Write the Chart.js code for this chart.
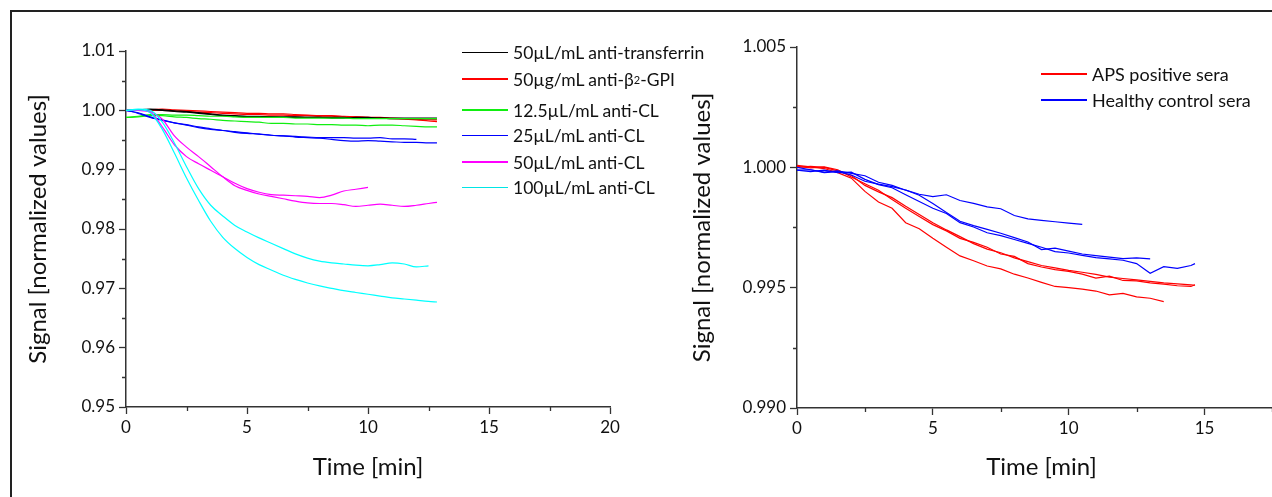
<!DOCTYPE html>
<html>
<head>
<meta charset="utf-8">
<script src="https://cdn.jsdelivr.net/npm/chart.js"></script>
<style>
  body {
    margin: 0;
    width: 1272px;
    height: 497px;
    overflow: hidden;
    background: #fff;
    position: relative;
    font-family: Lato, sans-serif;
  }
  #frame {
    position: absolute;
    left: 10px;
    top: 10px;
    width: 1400px;
    height: 600px;
    border: 2px solid #222;
    box-sizing: border-box;
  }
  #leftChart { position: absolute; left: 0; top: 0; }
  #rightChart { position: absolute; left: 680px; top: 0; }
  .row {
    position: absolute;
    height: 20px;
    display: flex;
    align-items: center;
    white-space: nowrap;
    font-size: 17.5px;
    color: #111;
  }
  .row.wide { font-size: 18px; }
  .row .sw {
    display: inline-block;
    width: 46px;
    height: 1px;
    margin-right: 5px;
  }
  .row .sw.thick { height: 2px; }
  .row sub { font-size: 11px; vertical-align: -4px; }
</style>
</head>
<body>
<div id="frame"></div>
<canvas id="leftChart" width="660" height="497"></canvas>
<canvas id="rightChart" width="656" height="497"></canvas>

<div class="row" style="left:462px;top:42px"><span class="sw" style="background:#000"></span>50µL/mL anti-transferrin</div>
<div class="row" style="left:462px;top:69px"><span class="sw thick" style="background:#ff0000"></span>50µg/mL anti-β<sub>2</sub>-GPI</div>
<div class="row" style="left:462px;top:100px"><span class="sw thick" style="background:#11ee11"></span>12.5µL/mL anti-CL</div>
<div class="row" style="left:462px;top:125px"><span class="sw" style="background:#0000ff"></span>25µL/mL anti-CL</div>
<div class="row" style="left:462px;top:152px"><span class="sw thick" style="background:#ff00ff"></span>50µL/mL anti-CL</div>
<div class="row" style="left:462px;top:177px"><span class="sw" style="background:#00e5e5"></span>100µL/mL anti-CL</div>

<div class="row wide" style="left:1041px;top:64px"><span class="sw thick" style="background:#ff0000"></span>APS positive sera</div>
<div class="row wide" style="left:1041px;top:90px"><span class="sw thick" style="background:#0000ff"></span>Healthy control sera</div>

<script>
  // ---- left panel: antibody dilutions ----
  const leftTime = [0, 0.5, 1, 1.5, 2, 2.5, 3, 3.5, 4, 4.5, 5, 5.5, 6, 6.5, 7, 7.5, 8, 8.5, 9, 9.5, 10, 10.5, 11, 11.5, 12, 12.5, 12.85];

  const transferrinA = [1.0000, 1.0001, 1.0002, 1.0001, 0.9999, 0.9998, 0.9996, 0.9994, 0.9992, 0.9991, 0.9990, 0.9990, 0.9989, 0.9989, 0.9989, 0.9988, 0.9988, 0.9988, 0.9988, 0.9987, 0.9987, 0.9987, 0.9986, 0.9986, 0.9986, 0.9986, 0.9986];
  const transferrinB = [1.0000, 1.0000, 1.0001, 1.0000, 0.9998, 0.9997, 0.9995, 0.9993, 0.9991, 0.9990, 0.9989, 0.9989, 0.9989, 0.9988, 0.9988, 0.9988, 0.9988, 0.9987, 0.9987, 0.9988, 0.9988, 0.9987, 0.9987, 0.9987, 0.9987, 0.9987, 0.9987];
  const beta2A = [1.0000, 1.0001, 1.0001, 1.0002, 1.0001, 1.0000, 0.9999, 0.9998, 0.9997, 0.9996, 0.9995, 0.9995, 0.9994, 0.9994, 0.9993, 0.9992, 0.9991, 0.9991, 0.9990, 0.9989, 0.9988, 0.9987, 0.9986, 0.9985, 0.9984, 0.9982, 0.9981];
  const beta2B = [1.0000, 1.0000, 1.0000, 1.0000, 0.9999, 0.9998, 0.9997, 0.9996, 0.9995, 0.9994, 0.9993, 0.9993, 0.9992, 0.9992, 0.9991, 0.9991, 0.9990, 0.9990, 0.9989, 0.9989, 0.9988, 0.9988, 0.9987, 0.9986, 0.9985, 0.9984, 0.9984];
  const cl125A = [0.9988, 0.9990, 0.9993, 0.9993, 0.9992, 0.9992, 0.9991, 0.9990, 0.9990, 0.9989, 0.9988, 0.9988, 0.9988, 0.9988, 0.9987, 0.9987, 0.9987, 0.9987, 0.9987, 0.9986, 0.9986, 0.9986, 0.9986, 0.9986, 0.9986, 0.9986, 0.9986];
  const cl125B = [0.9988, 0.9989, 0.9991, 0.9991, 0.9989, 0.9988, 0.9986, 0.9985, 0.9983, 0.9982, 0.9981, 0.9980, 0.9978, 0.9978, 0.9977, 0.9977, 0.9976, 0.9976, 0.9975, 0.9975, 0.9974, 0.9975, 0.9975, 0.9974, 0.9973, 0.9972, 0.9972];
  const cl25A = [1.0000, 0.9995, 0.9988, 0.9983, 0.9979, 0.9975, 0.9971, 0.9968, 0.9966, 0.9963, 0.9961, 0.9960, 0.9958, 0.9957, 0.9956, 0.9955, 0.9954, 0.9954, 0.9954, 0.9953, 0.9953, 0.9954, 0.9952, 0.9952, 0.9951];
  const cl25B = [1.0000, 0.9996, 0.9989, 0.9984, 0.9979, 0.9976, 0.9972, 0.9969, 0.9966, 0.9964, 0.9962, 0.9960, 0.9958, 0.9957, 0.9955, 0.9954, 0.9953, 0.9951, 0.9949, 0.9948, 0.9949, 0.9948, 0.9947, 0.9946, 0.9946, 0.9945, 0.9945];
  const cl50A = [1.0000, 1.0000, 0.9997, 0.9972, 0.9942, 0.9922, 0.9910, 0.9899, 0.9888, 0.9877, 0.9868, 0.9862, 0.9858, 0.9857, 0.9856, 0.9855, 0.9853, 0.9857, 0.9864, 0.9867, 0.9870];
  const cl50B = [1.0000, 1.0000, 0.9998, 0.9985, 0.9957, 0.9938, 0.9922, 0.9905, 0.9888, 0.9873, 0.9865, 0.9859, 0.9855, 0.9851, 0.9847, 0.9844, 0.9843, 0.9843, 0.9841, 0.9838, 0.9840, 0.9842, 0.9840, 0.9838, 0.9840, 0.9843, 0.9845];
  const cl100A = [1.0000, 1.0002, 1.0000, 0.9980, 0.9945, 0.9905, 0.9868, 0.9840, 0.9822, 0.9806, 0.9795, 0.9785, 0.9776, 0.9767, 0.9758, 0.9751, 0.9746, 0.9743, 0.9741, 0.9739, 0.9738, 0.9740, 0.9743, 0.9741, 0.9736, 0.9738];
  const cl100B = [1.0000, 1.0001, 0.9996, 0.9968, 0.9928, 0.9886, 0.9848, 0.9813, 0.9786, 0.9767, 0.9752, 0.9740, 0.9731, 0.9722, 0.9715, 0.9709, 0.9704, 0.9700, 0.9696, 0.9693, 0.9690, 0.9687, 0.9684, 0.9682, 0.9680, 0.9678, 0.9677];

  const leftXTicks = [0, 5, 10, 15, 20];
  const leftXMinor = [2.5, 7.5, 12.5, 17.5];
  const leftYTicks = [0.95, 0.96, 0.97, 0.98, 0.99, 1.00, 1.01];
  const leftYLabels = ['0.95', '0.96', '0.97', '0.98', '0.99', '1.00', '1.01'];
  const leftYMinor = [0.955, 0.965, 0.975, 0.985, 0.995, 1.005];

  // ---- right panel: patient sera ----
  const rightTime = [0, 0.5, 1, 1.5, 2, 2.5, 3, 3.5, 4, 4.5, 5, 5.5, 6, 6.5, 7, 7.5, 8, 8.5, 9, 9.5, 10, 10.5, 11, 11.5, 12, 12.5, 13, 13.5, 14, 14.5, 14.65];

  const apsA = [1.00008, 1.00002, 0.99995, 0.99978, 0.99955, 0.99900, 0.99856, 0.99830, 0.99770, 0.99745, 0.99705, 0.99668, 0.99632, 0.99612, 0.99590, 0.99578, 0.99556, 0.99540, 0.99522, 0.99505, 0.99500, 0.99494, 0.99486, 0.99470, 0.99476, 0.99462, 0.99456, 0.99442];
  const apsB = [1.00000, 1.00004, 1.00000, 0.99985, 0.99966, 0.99925, 0.99898, 0.99874, 0.99838, 0.99804, 0.99770, 0.99740, 0.99712, 0.99683, 0.99660, 0.99645, 0.99624, 0.99608, 0.99592, 0.99582, 0.99572, 0.99564, 0.99555, 0.99544, 0.99538, 0.99532, 0.99526, 0.99520, 0.99516, 0.99512, 0.99510];
  const apsC = [1.00004, 0.99998, 1.00002, 0.99990, 0.99960, 0.99932, 0.99905, 0.99866, 0.99830, 0.99796, 0.99762, 0.99736, 0.99705, 0.99688, 0.99668, 0.99640, 0.99630, 0.99600, 0.99586, 0.99575, 0.99568, 0.99556, 0.99540, 0.99548, 0.99530, 0.99528, 0.99520, 0.99515, 0.99508, 0.99505, 0.99512];
  const ctrlA = [0.99988, 0.99990, 0.99980, 0.99985, 0.99975, 0.99965, 0.99938, 0.99925, 0.99905, 0.99888, 0.99878, 0.99886, 0.99862, 0.99850, 0.99836, 0.99828, 0.99800, 0.99786, 0.99780, 0.99774, 0.99768, 0.99763];
  const ctrlB = [0.99988, 0.99982, 0.99988, 0.99978, 0.99980, 0.99950, 0.99928, 0.99915, 0.99886, 0.99858, 0.99830, 0.99808, 0.99770, 0.99752, 0.99728, 0.99716, 0.99700, 0.99684, 0.99668, 0.99650, 0.99644, 0.99634, 0.99625, 0.99620, 0.99614, 0.99600, 0.99560, 0.99587, 0.99580, 0.99592, 0.99600];
  const ctrlC = [1.00000, 0.99990, 0.99978, 0.99982, 0.99968, 0.99942, 0.99930, 0.99920, 0.99906, 0.99884, 0.99850, 0.99812, 0.99776, 0.99758, 0.99742, 0.99726, 0.99708, 0.99690, 0.99658, 0.99664, 0.99652, 0.99640, 0.99633, 0.99627, 0.99621, 0.99624, 0.99620];

  const rightXTicks = [0, 5, 10, 15];
  const rightXMinor = [2.5, 7.5, 12.5, 17.5];
  const rightYTicks = [0.990, 0.995, 1.000, 1.005];
  const rightYLabels = ['0.990', '0.995', '1.000', '1.005'];
  const rightYMinor = [0.9925, 0.9975, 1.0025];

  const axisColor = '#333';
  const textColor = '#111';
  const tickFont = { family: 'Lato', size: 17 };
  const titleFont = { family: 'Lato', size: 24 };

  function trace(time, values, color, smooth) {
    return {
      data: values.map((v, i) => ({ x: time[i], y: v })),
      borderColor: color,
      borderWidth: 1.2,
      pointRadius: 0,
      fill: false,
      tension: 0,
      cubicInterpolationMode: smooth ? 'monotone' : 'default'
    };
  }

  // short minor tick marks between the labelled ones
  function minorTicks(xMinor, yMinor) {
    return {
      id: 'minorTicks',
      afterDraw(chart) {
        const ctx = chart.ctx;
        const xs = chart.scales.x, ys = chart.scales.y;
        const area = chart.chartArea;
        ctx.save();
        ctx.strokeStyle = axisColor;
        ctx.lineWidth = 1.3;
        ctx.beginPath();
        xMinor.forEach(v => {
          if (v < xs.min || v > xs.max) return;
          const px = Math.round(xs.getPixelForValue(v)) + 0.5;
          ctx.moveTo(px, area.bottom);
          ctx.lineTo(px, area.bottom + 4);
        });
        yMinor.forEach(v => {
          const py = Math.round(ys.getPixelForValue(v)) + 0.5;
          ctx.moveTo(area.left - 4, py);
          ctx.lineTo(area.left, py);
        });
        ctx.stroke();
        ctx.restore();
      }
    };
  }

  function makeChart(id, datasets, cfg) {
    return new Chart(document.getElementById(id), {
      type: 'line',
      data: { datasets: datasets },
      options: {
        responsive: false,
        animation: false,
        layout: { padding: cfg.padding },
        plugins: { legend: { display: false }, tooltip: { enabled: false } },
        scales: {
          x: {
            type: 'linear',
            min: cfg.xMin, max: cfg.xMax,
            afterBuildTicks: s => { s.ticks = cfg.xTicks.map(v => ({ value: v })); },
            afterFit: s => { s.height = cfg.xHeight; },
            grid: { drawOnChartArea: false, tickLength: 7, tickColor: axisColor, tickWidth: 1.3 },
            border: { color: axisColor, width: 1.5 },
            ticks: { font: tickFont, color: textColor, padding: 3, maxRotation: 0, callback: v => String(v) },
            title: { display: true, text: 'Time [min]', font: titleFont, color: textColor, padding: { top: 0, bottom: 0 } }
          },
          y: {
            type: 'linear',
            min: cfg.yMin, max: cfg.yMax,
            afterBuildTicks: s => { s.ticks = cfg.yTicks.map(v => ({ value: v })); },
            afterFit: s => { s.width = cfg.yWidth; },
            grid: { drawOnChartArea: false, tickLength: 7, tickColor: axisColor, tickWidth: 1.3 },
            border: { color: axisColor, width: 1.5 },
            ticks: { font: tickFont, color: textColor, padding: 4, callback: (v, i) => cfg.yLabels[i] },
            title: { display: true, text: 'Signal [normalized values]', font: titleFont, color: textColor, padding: { top: cfg.yTitlePad, bottom: 0 } }
          }
        }
      },
      plugins: [minorTicks(cfg.xMinor, cfg.yMinor)]
    });
  }

  makeChart('leftChart', [
    trace(leftTime, cl100A, '#00ffff', true),
    trace(leftTime, cl100B, '#00ffff', true),
    trace(leftTime, cl50A, '#ff00ff', true),
    trace(leftTime, cl50B, '#ff00ff', true),
    trace(leftTime, cl25A, '#0000ff', true),
    trace(leftTime, cl25B, '#0000ff', true),
    trace(leftTime, cl125A, '#11ee11', true),
    trace(leftTime, cl125B, '#11ee11', true),
    trace(leftTime, transferrinA, '#000000', true),
    trace(leftTime, transferrinB, '#000000', true),
    trace(leftTime, beta2A, '#ff0000', true),
    trace(leftTime, beta2B, '#ff0000', true)
  ], {
    padding: { left: 0, top: 51, right: 50, bottom: 15 },
    xMin: 0, xMax: 20, xTicks: leftXTicks, xMinor: leftXMinor, xHeight: 75,
    yMin: 0.95, yMax: 1.01, yTicks: leftYTicks, yLabels: leftYLabels, yMinor: leftYMinor,
    yWidth: 126, yTitlePad: 24
  });

  makeChart('rightChart', [
    trace(rightTime, ctrlA, '#0000ff', false),
    trace(rightTime, ctrlB, '#0000ff', false),
    trace(rightTime, ctrlC, '#0000ff', false),
    trace(rightTime, apsA, '#ff0000', false),
    trace(rightTime, apsB, '#ff0000', false),
    trace(rightTime, apsC, '#ff0000', false)
  ], {
    padding: { left: 0, top: 47, right: 50, bottom: 15 },
    xMin: 0, xMax: 18, xTicks: rightXTicks, xMinor: rightXMinor, xHeight: 74,
    yMin: 0.990, yMax: 1.005, yTicks: rightYTicks, yLabels: rightYLabels, yMinor: rightYMinor,
    yWidth: 117, yTitlePad: 8
  });
</script>
</body>
</html>
